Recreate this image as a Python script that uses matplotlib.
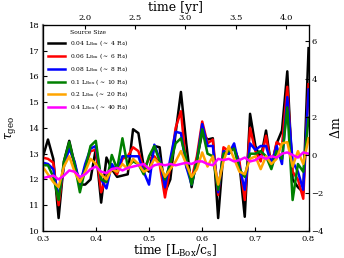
import numpy as np
import matplotlib
matplotlib.use('Agg')
import matplotlib.pyplot as plt

plt.rcParams['font.family'] = 'DejaVu Serif'
plt.rcParams['mathtext.fontset'] = 'dejavuserif'
plt.rcParams['xtick.direction'] = 'in'
plt.rcParams['ytick.direction'] = 'in'

# time in units of L_Box / c_s
t = np.round(np.arange(0.30, 0.8001, 0.01), 2)

tau_004 = [12.85, 13.55, 12.8, 10.5, 12.7, 13.5, 12.6, 11.8, 11.8, 12.0, 13.2, 11.1, 12.85,
           12.4, 12.1, 12.15, 12.2, 13.95, 13.8, 12.5, 12.3, 13.3, 13.25, 11.5, 12.0, 13.8,
           15.4, 13.4, 11.7, 12.8, 13.8, 13.55, 13.6, 10.5, 13.1, 13.0, 13.25, 12.6, 10.55,
           14.55, 13.3, 12.8, 13.9, 12.5, 13.4, 13.9, 16.2, 12.0, 11.7, 11.5, 17.1]
tau_006 = [12.85, 12.8, 12.65, 11.0, 12.6, 13.3, 12.6, 11.8, 12.5, 13.1, 13.15, 11.5, 12.1,
           12.5, 12.2, 12.8, 12.9, 13.25, 13.1, 12.4, 12.8, 12.9, 12.6, 11.3, 12.5, 14.0,
           14.65, 12.5, 12.0, 12.9, 14.25, 13.4, 13.55, 11.4, 13.25, 13.1, 13.2, 12.7, 11.2,
           14.0, 13.1, 12.7, 13.7, 12.5, 13.45, 13.3, 15.6, 12.3, 12.0, 11.25, 15.7]
tau_008 = [12.65, 12.6, 12.4, 11.3, 12.5, 13.2, 12.7, 11.8, 12.6, 13.2, 13.3, 12.0, 11.65,
           12.6, 12.3, 12.9, 12.9, 12.9, 12.9, 12.3, 11.8, 13.35, 12.8, 11.7, 12.8, 13.85,
           13.8, 12.5, 11.8, 12.7, 14.15, 13.3, 13.3, 11.5, 13.1, 13.0, 13.4, 12.5, 11.6,
           13.4, 13.15, 13.3, 13.3, 12.6, 13.3, 12.6, 15.2, 12.7, 12.3, 11.6, 15.5]
tau_01 = [12.55, 12.55, 12.1, 11.2, 12.7, 13.45, 12.6, 11.5, 12.4, 13.3, 13.5, 12.0, 11.9,
          12.95, 12.4, 13.6, 12.5, 12.7, 12.6, 12.2, 12.9, 13.3, 12.7, 12.0, 12.6, 13.4,
          13.6, 12.8, 11.8, 12.7, 13.95, 13.0, 12.9, 11.6, 13.0, 13.1, 13.2, 12.4, 12.1,
          13.0, 13.0, 13.1, 12.9, 12.4, 13.1, 12.8, 14.8, 11.2, 12.6, 12.3, 14.4]
tau_02 = [12.5, 12.2, 11.9, 11.7, 12.5, 12.9, 12.3, 11.9, 12.3, 12.8, 12.6, 12.2, 12.0,
          12.4, 12.3, 12.6, 12.4, 12.8, 12.6, 12.3, 12.4, 12.8, 12.6, 12.1, 12.4, 12.7,
          13.1, 12.6, 12.1, 12.4, 13.05, 12.5, 12.9, 11.8, 12.7, 13.3, 12.8, 12.3, 12.2,
          12.8, 12.9, 12.4, 12.9, 12.6, 12.8, 13.4, 13.45, 12.5, 13.1, 12.6, 13.6]
tau_04 = [12.05, 12.1, 12.15, 12.0, 12.15, 12.35, 12.3, 12.1, 12.2, 12.4, 12.5, 12.3, 12.25,
          12.4, 12.45, 12.35, 12.45, 12.5, 12.55, 12.6, 12.4, 12.55, 12.6, 12.55, 12.6, 12.55,
          12.6, 12.65, 12.6, 12.7, 12.7, 12.6, 12.55, 12.8, 12.75, 12.8, 12.7, 12.75, 12.85,
          12.7, 12.75, 12.9, 12.8, 12.9, 12.85, 13.0, 13.05, 12.95, 12.85, 13.05, 13.0]

series = [
    (tau_004, 'black', r'0.04 L$_{\rm Box}$ ($\sim$ 4 R$_{\odot}$)'),
    (tau_006, 'red', r'0.06 L$_{\rm Box}$ ($\sim$ 6 R$_{\odot}$)'),
    (tau_008, 'blue', r'0.08 L$_{\rm Box}$ ($\sim$ 8 R$_{\odot}$)'),
    (tau_01, 'green', r'0.1 L$_{\rm Box}$ ($\sim$ 10 R$_{\odot}$)'),
    (tau_02, 'orange', r'0.2 L$_{\rm Box}$ ($\sim$ 20 R$_{\odot}$)'),
    (tau_04, 'magenta', r'0.4 L$_{\rm Box}$ ($\sim$ 40 R$_{\odot}$)'),
]

yr_per_unit = 5.28

fig = plt.figure(figsize=(3.44, 2.58), dpi=100)
ax = fig.add_axes([0.124, 0.105, 0.773, 0.798])

for vals, col, lab in series:
    ax.plot(t, vals, color=col, lw=1.8, label=lab)

ax.set_xlim(0.3, 0.8)
ax.set_ylim(10, 18)
ax.set_xticks([0.3, 0.4, 0.5, 0.6, 0.7, 0.8])
ax.set_yticks(range(10, 19))
ax.tick_params(labelsize=6, length=3, pad=2, top=False, right=False)
ax.tick_params(axis='x', pad=3)
ax.set_xlabel(r'time [L$_{\rm Box}$/c$_{\rm s}$]', fontsize=9, labelpad=0)
ax.set_ylabel(r'$\tau_{\rm geo}$', fontsize=9, labelpad=8)
ax.spines['left'].set_color('#888888')
ax.spines['left'].set_linewidth(1.6)

leg = ax.legend(loc='upper left', frameon=False, fontsize=4.3, title='Source Size',
                title_fontsize=4.3, handlelength=2.8, handletextpad=0.9,
                labelspacing=0.5, borderaxespad=0.5)

# magnitude axis on the right
axr = ax.twinx()
axr.set_ylim(-4, 6.85)
axr.set_yticks([-4, -2, 0, 2, 4, 6])
axr.set_yticklabels(['\u22124', '\u22122', '0', '2', '4', '6'])
axr.tick_params(labelsize=6, length=3, pad=2)
axr.set_ylabel(r'$\Delta$m', fontsize=9, labelpad=4)

# physical time on the top
axt = ax.twiny()
axt.set_xlim(0.3 * yr_per_unit, 0.8 * yr_per_unit)
axt.set_xticks([2.0, 2.5, 3.0, 3.5, 4.0])
axt.tick_params(labelsize=6, length=3, pad=2)
axt.set_xlabel('time [yr]', fontsize=9, labelpad=2)

fig.savefig('out.png', dpi=100)
